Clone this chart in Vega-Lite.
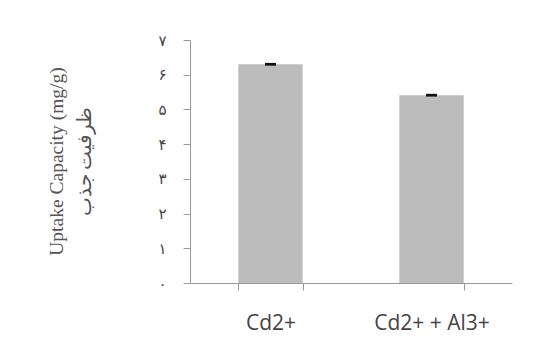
{
  "$schema": "https://vega.github.io/schema/vega-lite/v6.json",
  "autosize": "none",
  "width": 322,
  "height": 243,
  "padding": {"left": 190, "top": 40, "right": 28, "bottom": 75},
  "background": "white",
  "config": {"view": {"stroke": null}},
  "data": {"values": [
    {"ion": "Cd2+", "capacity": 6.3, "low": 6.26, "high": 6.34},
    {"ion": "Cd2+ + Al3+", "capacity": 5.41, "low": 5.37, "high": 5.45}
  ]},
  "encoding": {
    "x": {"field": "ion", "type": "nominal", "sort": null,
      "scale": {"paddingInner": 0.6, "paddingOuter": 0.3},
      "axis": {"title": null, "labelAngle": 0, "domainColor": "#9a9a9a", "tickColor": "#9a9a9a", "tickBand": "extent", "tickSize": 7,
        "labelFont": "Open Sans", "labelFontSize": 21, "labelColor": "#444", "labelPadding": 22}},
    "y": {"field": "capacity", "type": "quantitative",
        "scale": {"domain": [0, 7], "nice": false},
        "axis": {"values": [0,1,2,3,4,5,6,7], "labelOverlap": false, "grid": false, "domainColor": "#9a9a9a", "tickColor": "#9a9a9a", "tickSize": 7,
          "labelExpr": "['۰','۱','۲','۳','۴','۵','۶','۷'][datum.value]",
          "labelFont": "DejaVu Sans", "labelFontSize": 15, "labelColor": "#444", "labelPadding": 17,
          "title": ["Uptake Capacity (mg/g)", "ظرفیت جذب"], "titleFont": "Liberation Serif", "titleFontSize": 19.5, "titleFontWeight": "normal", "titleColor": "#555", "titleLineHeight": 28,
          "titleAngle": -90, "titleBaseline": "middle", "titleAlign": "center", "titleX": -134, "titleY": 121}}
  },
  "layer": [
    {"mark": {"type": "bar", "color": "#bcbcbc"}},
    {"mark": {"type": "bar", "color": "#111", "size": 11},
     "encoding": {"y": {"field": "low", "type": "quantitative"}, "y2": {"field": "high"}}}
  ]
}
